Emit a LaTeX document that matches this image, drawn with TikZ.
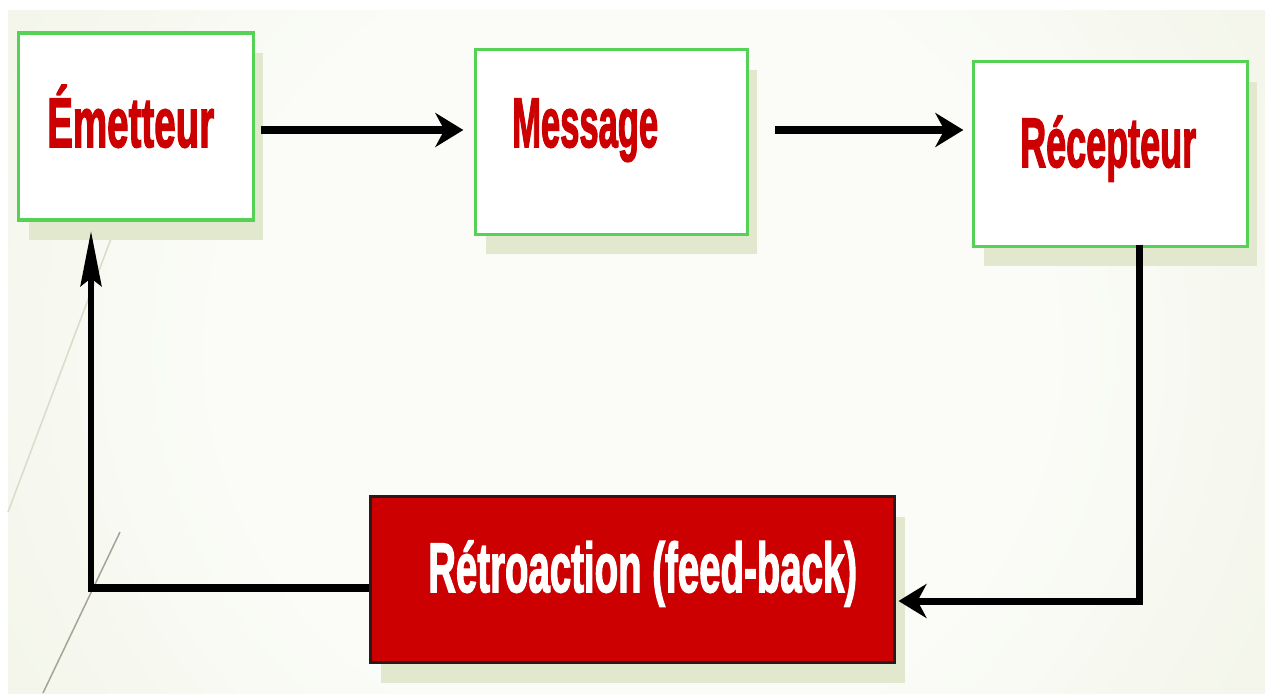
\documentclass[tikz,border=0pt]{standalone}
\usepackage{fontspec}
\setmainfont{Liberation Sans}
\newfontfamily\heavyfont{Liberation Sans}[UprightFont={* Bold}, UprightFeatures={FakeBold=2.5}]
\usetikzlibrary{arrows.meta,shadows}
\definecolor{boxgreen}{HTML}{55D155}
\definecolor{txtred}{HTML}{CC0000}
\definecolor{shadowc}{HTML}{E2E8CE}
\definecolor{bgin}{HTML}{FBFCF8}
\definecolor{bgout}{HTML}{E6EBD3}
\definecolor{redborder}{HTML}{2B1818}
\definecolor{lineonec}{HTML}{A8A292}
\definecolor{linetwoc}{HTML}{DADBCB}
\pgfdeclareradialshading{bgshade}{\pgfpoint{0bp}{0bp}}{color(0bp)=(bgin); color(16bp)=(bgin); color(50bp)=(bgout); color(72bp)=(bgout)}
\newcommand{\squash}[2]{\resizebox{#1}{\height}{#2}}
\begin{document}
\begin{tikzpicture}[x=1pt,y=-1pt,
  greenbox/.style={rectangle, draw=boxgreen, line width=3.3pt, fill=white, inner sep=0pt,
    drop shadow={shadow xshift=10pt, shadow yshift=-20pt, fill=shadowc, opacity=1}},
  redbox/.style={rectangle, draw=redborder, line width=3pt, fill=txtred, inner sep=0pt,
    drop shadow={shadow xshift=10pt, shadow yshift=-20pt, fill=shadowc, opacity=1}},
  lbl/.style={inner sep=0pt, anchor=base west, font=\fontsize{70pt}{70pt}\selectfont\heavyfont},
  arr/.style={line width=8pt, -{Stealth[length=28pt,width=34pt,inset=9pt]}},
  arrv/.style={line width=5.5pt, -{Stealth[length=55pt,width=21pt,inset=8pt]}},
  plain/.style={line width=8pt}
]
\useasboundingbox (0,0) rectangle (1265,693);
\fill[white] (0,0) rectangle (1265,693);
\begin{scope}
  \clip (8,11) rectangle (1265,693);
  \shade[shading=bgshade] (0,-260) rectangle (1265,960);
\end{scope}
% faint background strokes
\draw[lineonec, line width=1.5pt] (43,693) -- (120,532);
\draw[linetwoc, line width=1.5pt] (8,512) -- (112,236);

% boxes
\node[greenbox, minimum width=234.7pt, minimum height=186.7pt] (emet) at (136,126.5) {};
\node[greenbox, minimum width=271.7pt, minimum height=184.7pt] (msg) at (611.5,142) {};
\node[greenbox, minimum width=273.7pt, minimum height=184.7pt] (rec) at (1110.5,154) {};
\node[redbox, minimum width=524pt, minimum height=166pt] (ret) at (632.5,579.5) {};

% labels
\node[lbl, text=txtred] (t1) at (47,147) {\squash{167pt}{Émetteur}};
\node[lbl, text=txtred] (t2) at (512,147) {\squash{146pt}{Message}};
\node[lbl, text=txtred] (t3) at (1020,167) {\squash{176pt}{Récepteur}};
\node[lbl, text=white] (t4) at (428,592) {\squash{429pt}{Rétroaction (feed-back)}};

% connectors
\draw[arr] ([xshift=5.65pt,yshift=-3.5pt]emet.east) -- ([xshift=-10.65pt,yshift=12pt]msg.west);
\draw[arr] ([xshift=25.65pt,yshift=12pt]msg.east) -- ([xshift=-8.65pt,yshift=24pt]rec.west);
\draw[arr, line width=7pt] ([xshift=28.5pt,yshift=3.35pt]rec.south) |- ([xshift=2.5pt,yshift=-21.5pt]ret.east);
\coordinate (corner) at (91,588);
\draw[plain] ([yshift=-8.5pt]ret.west) -- ([xshift=-2.75pt]corner);
\draw[arrv] ([yshift=-4pt]corner) -- ([xshift=-45pt,yshift=-9.65pt]emet.south);
\end{tikzpicture}
\end{document}
